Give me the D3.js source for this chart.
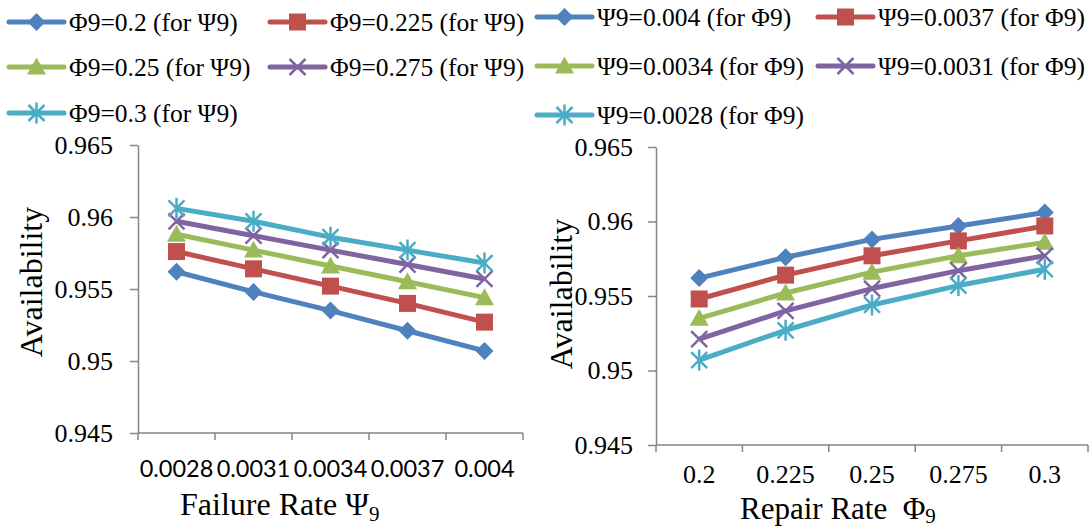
<!DOCTYPE html>
<html>
<head>
<meta charset="utf-8">
<script src="https://cdn.jsdelivr.net/npm/d3@7"></script>
<style>
  body { margin: 0; background: #fff; }
  svg { display: block; }
  .serif { font-family: "Liberation Serif", "Times New Roman", serif; }
  .sans { font-family: Lato, "Liberation Sans", sans-serif; }
</style>
</head>
<body>
<svg id="chart" width="1090" height="528"></svg>
<script>
// ---- data ----
const failureRates = ["0.0028", "0.0031", "0.0034", "0.0037", "0.004"];
const repairRates = ["0.2", "0.225", "0.25", "0.275", "0.3"];
const availabilityTicks = [0.945, 0.95, 0.955, 0.96, 0.965];

// Availability vs failure rate, one series per repair rate
const leftNames = ["Φ9=0.2 (for Ψ9)", "Φ9=0.225 (for Ψ9)", "Φ9=0.25 (for Ψ9)", "Φ9=0.275 (for Ψ9)", "Φ9=0.3 (for Ψ9)"];
const phi0200 = [0.9562, 0.9548, 0.9535, 0.9521, 0.9507];
const phi0225 = [0.9576, 0.9564, 0.9552, 0.9540, 0.9527];
const phi0250 = [0.9588, 0.9577, 0.9566, 0.9555, 0.9544];
const phi0275 = [0.9597, 0.9587, 0.9577, 0.9567, 0.9557];
const phi0300 = [0.9606, 0.9597, 0.9586, 0.9577, 0.9568];

// Availability vs repair rate, one series per failure rate
const rightNames = ["Ψ9=0.004 (for Φ9)", "Ψ9=0.0037 (for Φ9)", "Ψ9=0.0034 (for Φ9)", "Ψ9=0.0031 (for Φ9)", "Ψ9=0.0028 (for Φ9)"];
const psi0040 = [0.9562, 0.9576, 0.9588, 0.9597, 0.9606];
const psi0037 = [0.9548, 0.9564, 0.9577, 0.9587, 0.9597];
const psi0034 = [0.9535, 0.9552, 0.9566, 0.9577, 0.9586];
const psi0031 = [0.9521, 0.9540, 0.9555, 0.9567, 0.9577];
const psi0028 = [0.9507, 0.9527, 0.9544, 0.9557, 0.9568];

// ---- styling ----
const colors = ["#4F81BD", "#C0504D", "#9BBB59", "#8064A2", "#4BACC6"];
const markers = ["diamond", "square", "triangle", "x", "star"];
const axisColor = "#868686";

const svg = d3.select("#chart");

function drawMarker(g, type, color) {
  if (type === "diamond") {
    g.append("path").attr("d", "M0,-9L9,0L0,9L-9,0Z").attr("fill", color);
  } else if (type === "square") {
    g.append("rect").attr("x", -8.5).attr("y", -8.5).attr("width", 17).attr("height", 17).attr("fill", color);
  } else if (type === "triangle") {
    g.append("path").attr("d", "M0,-9.5L9.5,7.5L-9.5,7.5Z").attr("fill", color);
  } else if (type === "x") {
    g.append("path").attr("d", "M-8,-8L8,8M-8,8L8,-8")
      .attr("stroke", color).attr("stroke-width", 2.5).attr("fill", "none");
  } else if (type === "star") {
    g.append("path").attr("d", "M-8,-8L8,8M-8,8L8,-8M0,-10.5L0,10.5")
      .attr("stroke", color).attr("stroke-width", 2.5).attr("fill", "none");
  }
}

function drawPanel(cfg) {
  const x = d3.scaleBand().domain(cfg.categories).range([cfg.left, cfg.right]).padding(0);
  const y = d3.scaleLinear().domain([0.945, 0.965]).range([cfg.bottom, cfg.top]);
  const g = svg.append("g");

  // y axis
  const yAxis = d3.axisLeft(y)
    .tickValues(availabilityTicks)
    .tickFormat(d => String(+d.toFixed(3)))
    .tickSize(8).tickSizeOuter(0).tickPadding(cfg.yPad);
  const ya = g.append("g").attr("transform", `translate(${cfg.left},0)`).call(yAxis)
    .attr("font-family", null).attr("font-size", null);
  ya.select(".domain").attr("stroke", axisColor).attr("stroke-width", 1.5);
  ya.selectAll(".tick line").attr("stroke", axisColor).attr("stroke-width", 1.5);
  ya.selectAll(".tick text").attr("class", "serif").style("font-size", "26px").attr("fill", "#000");

  // x axis: line plus ticks on category boundaries
  const edges = cfg.categories.map(c => x(c)).concat([cfg.right]);
  g.append("line").attr("x1", cfg.left).attr("x2", cfg.right)
    .attr("y1", cfg.bottom).attr("y2", cfg.bottom)
    .attr("stroke", axisColor).attr("stroke-width", 1.5);
  g.selectAll(".xtick").data(edges).join("line")
    .attr("x1", d => d).attr("x2", d => d)
    .attr("y1", cfg.bottom).attr("y2", cfg.bottom + 7)
    .attr("stroke", axisColor).attr("stroke-width", 1.5);
  g.selectAll(".xlab").data(cfg.categories).join("text")
    .attr("class", cfg.xFont)
    .attr("x", d => x(d) + x.bandwidth() / 2)
    .attr("y", cfg.xLabelY)
    .attr("text-anchor", "middle")
    .style("font-size", cfg.xFontSize + "px")
    .text(d => d);

  // axis titles
  g.append("text")
    .attr("class", "serif")
    .attr("transform", `translate(${cfg.yTitleX},${cfg.yTitleY}) rotate(-90)`)
    .attr("text-anchor", "middle")
    .style("font-size", "32px")
    .text("Availability");
  const xt = g.append("text")
    .attr("class", "serif")
    .attr("x", cfg.xTitleX).attr("y", cfg.xTitleY)
    .style("font-size", cfg.xTitleSize + "px")
    .style("white-space", "pre");
  xt.append("tspan").text(cfg.xTitle);
  xt.append("tspan").style("font-size", "21px").attr("dy", cfg.subShift).text("9");

  // series
  const line = d3.line().x((d, i) => x(cfg.categories[i]) + x.bandwidth() / 2).y(d => y(d));
  cfg.series.forEach((vals, si) => {
    const sg = g.append("g");
    sg.append("path").datum(vals).attr("d", line)
      .attr("fill", "none").attr("stroke", colors[si]).attr("stroke-width", 5)
      .attr("stroke-linejoin", "round");
    vals.forEach((v, i) => {
      const mg = sg.append("g")
        .attr("transform", `translate(${x(cfg.categories[i]) + x.bandwidth() / 2},${y(v)})`);
      drawMarker(mg, markers[si], colors[si]);
    });
  });
}

drawPanel({
  categories: failureRates,
  series: [phi0200, phi0225, phi0250, phi0275, phi0300],
  left: 138, right: 523, top: 145, bottom: 433,
  yPad: 17, xLabelY: 477, xFont: "sans", xFontSize: 23.5,
  yTitleX: 42, yTitleY: 282,
  xTitle: "Failure Rate Ψ", xTitleX: 180, xTitleY: 515, xTitleSize: 32, subShift: 6
});

drawPanel({
  categories: repairRates,
  series: [psi0040, psi0037, psi0034, psi0031, psi0028],
  left: 656, right: 1088, top: 147, bottom: 445,
  yPad: 15, xLabelY: 483, xFont: "serif", xFontSize: 26,
  yTitleX: 572, yTitleY: 294,
  xTitle: "Repair Rate  Φ", xTitleX: 740, xTitleY: 518.5, xTitleSize: 31, subShift: 4.5
});

// ---- legends ----
function drawLegend(names, items) {
  names.forEach((name, i) => {
    const it = items[i];
    const lg = svg.append("g");
    lg.append("line").attr("x1", it.x).attr("x2", it.x + 55)
      .attr("y1", it.y).attr("y2", it.y)
      .attr("stroke", colors[i]).attr("stroke-width", 5).attr("stroke-linecap", "round");
    const mg = lg.append("g").attr("transform", `translate(${it.x + 27.5},${it.y})`);
    drawMarker(mg, markers[i], colors[i]);
    lg.append("text").attr("class", "serif")
      .attr("x", it.x + 60).attr("y", it.y + 8.5)
      .style("font-size", "25.5px")
      .text(name);
  });
}

drawLegend(leftNames, [
  { x: 9, y: 22 }, { x: 270, y: 22 },
  { x: 9, y: 67 }, { x: 270, y: 67 },
  { x: 9, y: 113 }
]);
drawLegend(rightNames, [
  { x: 537, y: 17 }, { x: 818, y: 17 },
  { x: 537, y: 66 }, { x: 818, y: 66 },
  { x: 537, y: 115 }
]);
</script>
</body>
</html>
